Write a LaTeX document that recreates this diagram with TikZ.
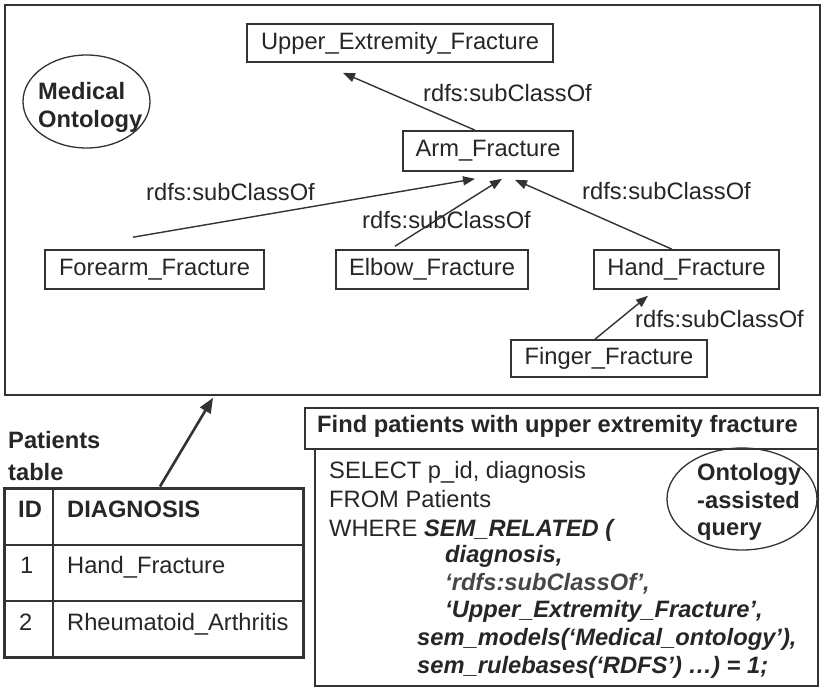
\documentclass[tikz,border=0pt]{standalone}
\usepackage{fontspec}
\setmainfont{Liberation Sans}
\usetikzlibrary{arrows.meta,calc,shapes.geometric}

\definecolor{ink}{HTML}{262626}
\definecolor{rule}{HTML}{333333}

\tikzset{
  every node/.style={text=ink, font=\fontsize{23.7}{28.5}\selectfont},
  classbox/.style={draw=rule, line width=1.6pt, inner sep=0pt, align=center},
  frame/.style={draw=rule, line width=1.6pt, inner sep=0pt},
  txt/.style={inner sep=0pt, anchor=base west},
  btxt/.style={txt, font=\fontsize{23.7}{28.5}\selectfont\bfseries},
  bitxt/.style={txt, font=\fontsize{23.7}{28.5}\selectfont\bfseries\itshape},
  sub/.style={draw=rule, line width=1.4pt, -{Triangle[length=12pt,width=9pt]}},
  bigarrow/.style={draw=rule, line width=2.6pt, -{Triangle[length=15pt,width=12pt]}},
  tag/.style={draw=rule, line width=1.3pt, ellipse, inner sep=0pt},
}

\begin{document}
\begin{tikzpicture}[x=1pt, y=-1pt]
  \useasboundingbox (0,0) rectangle (825,688);
  \fill[white] (0,0) rectangle (825,688);

  % ontology frame
  \node[frame, minimum width=815pt, minimum height=390pt] (onto) at (412.5,200) {};

  % class hierarchy
  \node[classbox, minimum width=306pt, minimum height=38pt] (upper) at (400,43) {Upper\_Extremity\_Fracture};
  \node[classbox, minimum width=170pt, minimum height=40pt] (arm) at (488,151) {Arm\_Fracture};
  \node[classbox, minimum width=219pt, minimum height=39pt] (forearm) at (154.5,269.5) {Forearm\_Fracture};
  \node[classbox, minimum width=192pt, minimum height=39pt] (elbow) at (432,269.5) {Elbow\_Fracture};
  \node[classbox, minimum width=185pt, minimum height=39pt] (hand) at (686.5,269.5) {Hand\_Fracture};
  \node[classbox, minimum width=196pt, minimum height=37pt] (finger) at (609,358.5) {Finger\_Fracture};

  % subclass links
  \draw[sub] ([xshift=-13pt]arm.north) -- ([xshift=-57pt,yshift=-10pt]upper.south);
  \draw[sub] ([xshift=-21.5pt,yshift=12pt]forearm.north) -- ([xshift=-13pt,yshift=-7pt]arm.south);
  \draw[sub] ([xshift=-37pt,yshift=3pt]elbow.north) -- ([xshift=14pt,yshift=-7pt]arm.south);
  \draw[sub] ([xshift=-14.5pt]hand.north) -- ([xshift=27pt,yshift=-8pt]arm.south);
  \draw[sub] ([xshift=-14pt]finger.north) -- ([xshift=-38.5pt,yshift=-6pt]hand.south);

  \node[txt] (l1) at (423,101.5) {rdfs:subClassOf};
  \node[txt] (l2) at (146,200) {rdfs:subClassOf};
  \node[txt] (l3) at (362,228) {rdfs:subClassOf};
  \node[txt] (l4) at (582,199) {rdfs:subClassOf};
  \node[txt] (l5) at (635,327) {rdfs:subClassOf};

  % ontology tag
  \node[tag, minimum width=127pt, minimum height=93pt] (medtag) at (86.5,101.5) {};
  \node[btxt] (med1) at (38,99) {Medical};
  \node[btxt] (med2) at (38,127) {Ontology};

  % patients table
  \node[btxt] (pt1) at (8,448) {Patients};
  \node[btxt] (pt2) at (8,480) {table};
  \node[draw=rule, line width=3pt, inner sep=0pt, minimum width=299pt, minimum height=169pt] (ptable) at (153.5,572.5) {};
  \draw[rule, line width=1.5pt] (53,488) -- (53,657);
  \draw[rule, line width=1.5pt] (4,545) -- (303,545);
  \draw[rule, line width=1.5pt] (4,601) -- (303,601);
  \node[btxt] (hid) at (18,517) {ID};
  \node[btxt] (hdiag) at (67,517) {DIAGNOSIS};
  \node[txt] (r1id) at (20,573) {1};
  \node[txt] (r1d) at (67,573) {Hand\_Fracture};
  \node[txt] (r2id) at (19,630) {2};
  \node[txt] (r2d) at (67,630) {Rheumatoid\_Arthritis};

  \draw[bigarrow] ([xshift=6.5pt]ptable.north) -- ([xshift=-199.5pt,yshift=-2pt]onto.south);

  % query panel
  \node[frame, minimum width=513pt, minimum height=41pt] (qhead) at (561.5,428.5) {};
  \node[frame, minimum width=503pt, minimum height=237pt] (qbody) at (566.5,567.5) {};
  \node[btxt] (qtitle) at (317,432.5) {Find patients with upper extremity fracture};

  \node[txt] (q1) at (329,478) {SELECT p\_id, diagnosis};
  \node[txt] (q2) at (329,507) {FROM Patients};
  \node[txt] (q3) at (329,536) {WHERE \textbf{\textit{SEM\_RELATED (}}};
  \node[bitxt] (q4) at (445,562) {diagnosis,};
  \node[bitxt, text=ink!85] (q5) at (445,590) {‘rdfs:subClassOf’,};
  \node[bitxt] (q6) at (445,617) {‘Upper\_Extremity\_Fracture’,};
  \node[bitxt] (q7) at (417,645) {sem\_models(‘Medical\_ontology’),};
  \node[bitxt] (q8) at (417,673) {sem\_rulebases(‘RDFS’) …) = 1;};

  \node[tag, minimum width=150pt, minimum height=102pt] (qtag) at (742,499) {};
  \node[btxt] (qt1) at (697,480) {Ontology};
  \node[btxt] (qt2) at (697,508) {-assisted};
  \node[btxt] (qt3) at (697,535) {query};
\end{tikzpicture}
\end{document}
